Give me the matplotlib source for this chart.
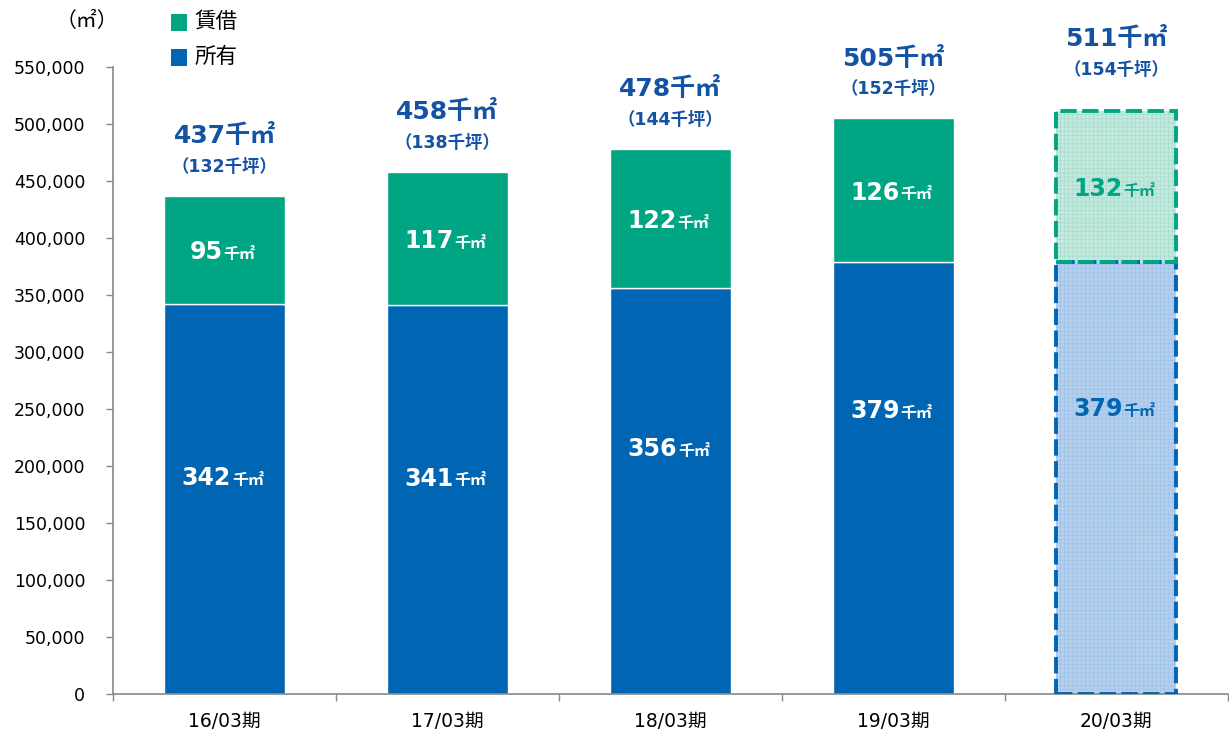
import matplotlib.pyplot as plt
import numpy as np

plt.rcParams['font.family'] = ['DejaVu Sans', 'Noto Sans CJK JP']
plt.rcParams['hatch.linewidth'] = 0.5

periods = ['16/03期', '17/03期', '18/03期', '19/03期', '20/03期']
owned = [342, 341, 356, 379, 379]       # 千㎡
leased = [95, 117, 122, 126, 132]       # 千㎡
total = [437, 458, 478, 505, 511]       # 千㎡
tsubo = [132, 138, 144, 152, 154]       # 千坪

# where the owned-area labels sit inside the blue bars (share of bar height)
own_label_pos = [0.56, 0.56, 0.61, 0.66, 0.665]

GREEN = '#00A583'
BLUE = '#0066B3'
LABEL_BLUE = '#1452A3'

fig = plt.figure(figsize=(12.29, 7.42), dpi=100)
ax = fig.add_axes([0.092, 0.0647, 0.907, 0.845])

x = np.arange(len(periods))
w = 0.54
own_v = np.array(owned) * 1000
lea_v = np.array(leased) * 1000

# actual periods
ax.bar(x[:-1], own_v[:-1], w, color=BLUE, edgecolor='white', linewidth=1, zorder=2)
ax.bar(x[:-1], lea_v[:-1], w, bottom=own_v[:-1], color=GREEN, edgecolor='white', linewidth=1, zorder=2)

# forecast period: light textured fill with dashed outline
i = len(periods) - 1
ax.bar(x[i], own_v[i], w, color='#B4D0EE', edgecolor='#A2C3E8', hatch='++++', linewidth=0, zorder=2)
ax.bar(x[i], lea_v[i], w, bottom=own_v[i], color='#C4E9DE', edgecolor='#A8DDCE', hatch='++++', linewidth=0, zorder=2)
dash = (0, (4.2, 1.4))
ax.bar(x[i], own_v[i], w, fill=False, edgecolor=BLUE, linewidth=2.8, linestyle=dash, zorder=3)
ax.bar(x[i], lea_v[i], w, bottom=own_v[i], fill=False, edgecolor=GREEN, linewidth=2.8, linestyle=dash, zorder=4)


def seg_label(xc, yc, num, color):
    t = ax.annotate(str(num), xy=(xc, yc), xytext=(-13, 0), textcoords='offset points',
                    ha='center', va='center_baseline', fontsize=17, fontweight='bold', color=color, zorder=5)
    ax.annotate('千㎡', xy=(1, 0.1), xycoords=t, xytext=(0.5, 0), textcoords='offset points',
                ha='left', va='bottom', fontsize=11.5, fontweight='bold', color=color, zorder=5)


for k in range(len(periods)):
    fc_own = 'white' if k < i else BLUE
    fc_lea = 'white' if k < i else GREEN
    seg_label(x[k], own_v[k] * own_label_pos[k], owned[k], fc_own)
    seg_label(x[k], own_v[k] + lea_v[k] / 2, leased[k], fc_lea)
    extra = 9 if k == i else 0
    tv = total[k] * 1000
    ax.annotate(f'{total[k]}千㎡', xy=(x[k], tv), xytext=(0, 43 + extra), textcoords='offset points',
                ha='center', va='center', fontsize=18, fontweight='bold', color=LABEL_BLUE)
    ax.annotate(f'（{tsubo[k]}千坪）', xy=(x[k], tv), xytext=(0, 21 + extra), textcoords='offset points',
                ha='center', va='center', fontsize=12.5, fontweight='bold', color=LABEL_BLUE)

ax.set_xlim(-0.5, len(periods) - 0.5)
ax.set_ylim(0, 550000)
ax.set_yticks(np.arange(0, 550001, 50000))
ax.set_yticklabels([f'{v:,}' for v in range(0, 550001, 50000)], fontsize=12.5)
ax.tick_params(axis='y', length=5, width=1, color='#888888', pad=15)

ax.set_xticks(x)
ax.set_xticklabels(periods, fontsize=13.5)
ax.set_xticks(np.arange(-0.5, len(periods)), minor=True)
ax.tick_params(axis='x', which='major', length=0, pad=13)
ax.tick_params(axis='x', which='minor', length=5, width=1, color='#888888')

for s in ['top', 'right']:
    ax.spines[s].set_visible(False)
for s in ['left', 'bottom']:
    ax.spines[s].set_color('#888888')
    ax.spines[s].set_linewidth(1.2)

# unit and legend
fig.text(0.071, 0.972, '（㎡）', fontsize=15, ha='center', va='center')
legend_items = [('賃借', GREEN, 0.970), ('所有', BLUE, 0.923)]
for name, col, yy in legend_items:
    fig.patches.append(plt.Rectangle((0.139, yy - 0.0115), 0.0135, 0.023, transform=fig.transFigure,
                                     facecolor=col, edgecolor='none'))
    fig.text(0.158, yy, name, fontsize=15.5, ha='left', va='center')

fig.savefig('out.png', dpi=100)
